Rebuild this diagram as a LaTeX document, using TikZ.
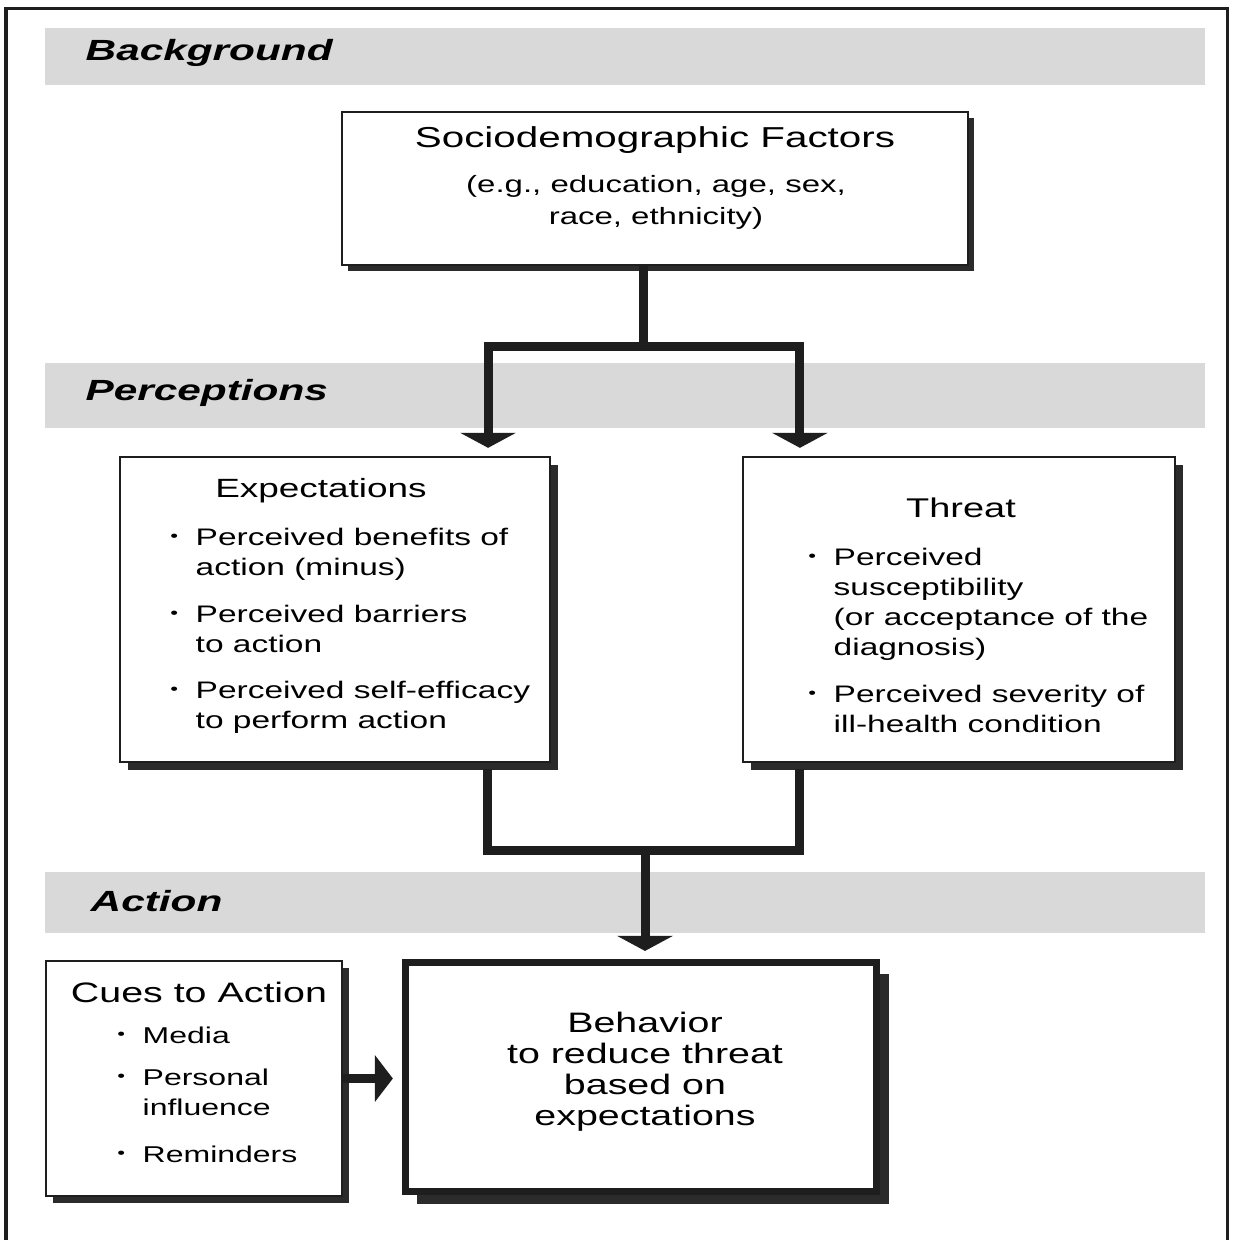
\documentclass[tikz,border=0pt]{standalone}
\usepackage{fontspec}
\setmainfont{Liberation Sans}[FakeStretch=1.4]
\newfontfamily\bandfont{Liberation Sans}[FakeStretch=1.45]
\usetikzlibrary{arrows.meta,shadows}
\usepackage{xcolor}
\definecolor{bandgray}{HTML}{D9D9D9}
\definecolor{inkdark}{HTML}{1E1E1E}
\definecolor{shadowdark}{HTML}{2B2B2B}

\newcommand{\bul}{\llap{\raisebox{1pt}{\fontsize{4.5pt}{5pt}\selectfont\textbullet}\hspace{5pt}}}

\tikzset{
  box/.style={draw=inkdark, line width=0.6pt, fill=white, inner sep=0pt},
  boxshadow/.style={drop shadow={shadow xshift=#1, shadow yshift=-#1, fill=shadowdark, opacity=1}},
  link/.style={draw=inkdark, line width=0.09cm, line join=miter},
  bigtip/.style={-{Triangle[width=0.55cm,length=0.15cm]}, shorten >=0.08cm},
  sidetip/.style={-{Triangle[width=0.46cm,length=0.18cm]}, shorten >=0.09cm},
  bandlbl/.style={anchor=base west, inner sep=0pt, font=\bandfont\bfseries\itshape\fontsize{8.3pt}{10pt}\selectfont},
  item/.style={anchor=base west, inner sep=0pt, align=left},
  head/.style={anchor=base, inner sep=0pt, align=center}
}

\begin{document}
\begin{tikzpicture}[x=0.01cm,y=-0.01cm]

\useasboundingbox (0,0) rectangle (1234,1240);
\fill[white] (0,0) rectangle (1234,1240);

\draw[inkdark, line width=0.03cm] (6,1240) -- (6,9) -- (1227,9) -- (1227,1240);

\fill[bandgray] (45,28) rectangle (1205,85);
\fill[bandgray] (45,363) rectangle (1205,428);
\fill[bandgray] (45,872) rectangle (1205,933);

\node[bandlbl] (bgLbl) at (85,61) {Background};
\node[bandlbl] (percLbl) at (85,401) {Perceptions};
\node[bandlbl] (actLbl) at (90,911) {Action};

\node[box, boxshadow=0.06cm, minimum width=6.26cm, minimum height=1.53cm] (socio) at (655,188.5) {};
\node[head, font=\fontsize{8.2pt}{10pt}\selectfont] (socioHead) at (655,148) {Sociodemographic Factors};
\node[head, font=\fontsize{6.7pt}{9.1pt}\selectfont] (socioSub) at (656,225) {(e.g., education, age, sex,\\race, ethnicity)};

\node[box, boxshadow=0.08cm, minimum width=4.30cm, minimum height=3.05cm] (expect) at (335,609.5) {};
\node[head, font=\fontsize{7.5pt}{9pt}\selectfont] (expectHead) at (321,498) {Expectations};
\node[item, font=\fontsize{6.8pt}{8.5pt}\selectfont] (expectA) at (195,575) {\bul Perceived benefits of\\action (minus)};
\node[item, font=\fontsize{6.8pt}{8.5pt}\selectfont] (expectB) at (195,652) {\bul Perceived barriers\\to action};
\node[item, font=\fontsize{6.8pt}{8.5pt}\selectfont] (expectC) at (195,728) {\bul Perceived self-efficacy\\to perform action};

\node[box, boxshadow=0.08cm, minimum width=4.32cm, minimum height=3.05cm] (threat) at (959,609.5) {};
\node[head, font=\fontsize{7.7pt}{9pt}\selectfont] (threatHead) at (961,518) {Threat};
\node[item, font=\fontsize{6.8pt}{8.5pt}\selectfont] (threatA) at (833,655) {\bul Perceived\\susceptibility\\(or acceptance of the\\diagnosis)};
\node[item, font=\fontsize{6.8pt}{8.5pt}\selectfont] (threatB) at (833,732) {\bul Perceived severity of\\ill-health condition};

\node[box, boxshadow=0.07cm, minimum width=2.96cm, minimum height=2.35cm] (cues) at (194,1078.5) {};
\node[head, font=\fontsize{8pt}{9pt}\selectfont] (cuesHead) at (199,1002) {Cues to Action};
\node[item, font=\fontsize{6.5pt}{8.5pt}\selectfont] (cuesA) at (142,1043) {\bul Media};
\node[item, font=\fontsize{6.5pt}{8.5pt}\selectfont] (cuesB) at (142,1115) {\bul Personal\\influence};
\node[item, font=\fontsize{6.5pt}{8.5pt}\selectfont] (cuesC) at (142,1162) {\bul Reminders};

\node[box, line width=0.07cm, boxshadow=0.12cm, minimum width=4.71cm, minimum height=2.29cm] (behav) at (641,1077) {};
\node[head, font=\fontsize{8pt}{8.8pt}\selectfont] (behavText) at (645,1125) {Behavior\\to reduce threat\\based on\\expectations};

\coordinate (split) at (643,347);
\coordinate (merge) at (645,850);

\draw[link] (socio.south -| split) -- (split);
\draw[link, bigtip] (split) -| ([xshift=1.53cm]expect.north);
\draw[link, bigtip] (split) -| ([xshift=-1.59cm]threat.north);

\draw[link] ([xshift=1.52cm,yshift=-0.06cm]expect.south) |- (merge) -| ([xshift=-1.59cm,yshift=-0.06cm]threat.south);
\draw[link, bigtip] (merge) -- (behav.north -| merge);

\draw[link, sidetip] (cues.east) -- (cues.east -| behav.west);

\end{tikzpicture}
\end{document}
